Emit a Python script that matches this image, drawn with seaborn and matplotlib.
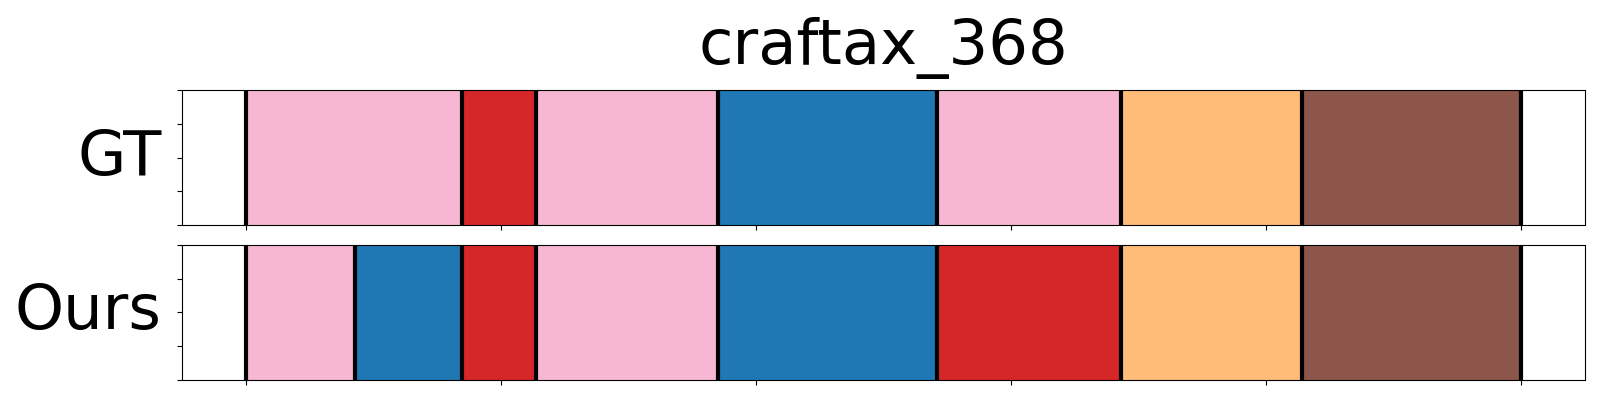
import matplotlib
matplotlib.use("Agg")
import matplotlib.pyplot as plt
import seaborn as sns

# segment boundaries (frames) and class ids per row
title = "craftax_368"
row_names = ["GT", "Ours"]
gt_bounds = [0, 85, 114, 185, 271, 343, 414, 500]
gt_ids = [13, 6, 13, 0, 13, 3, 10]
ours_bounds = [0, 43, 85, 114, 185, 271, 343, 414, 500]
ours_ids = [13, 0, 6, 13, 0, 6, 3, 10]

pal = sns.color_palette("tab20", 20)

fig, axes = plt.subplots(2, 1, figsize=(16, 4), dpi=100, sharex=True)
fig.subplots_adjust(left=0.1136, right=0.9906, top=0.775, bottom=0.05, hspace=0.148)

for ax, name, bounds, ids in zip(axes, row_names, [gt_bounds, ours_bounds], [gt_ids, ours_ids]):
    starts = bounds[:-1]
    widths = [b - a for a, b in zip(bounds[:-1], bounds[1:])]
    ax.barh(0.5, widths, left=starts, height=1.0, color=[pal[i] for i in ids], linewidth=0)
    for b in bounds:
        ax.axvline(b, color="black", linewidth=3)
    ax.use_sticky_edges = False
    ax.margins(x=0.05)
    ax.set_ylim(0, 1)
    ax.set_yticks([0, 0.25, 0.5, 0.75, 1.0])
    ax.set_yticklabels([])
    ax.set_ylabel(name, fontsize=45, rotation=0, ha="right", va="center", labelpad=7.5)
    ax.tick_params(labelbottom=False)

axes[0].set_title(title, fontsize=45, pad=19)

plt.savefig("out.png", dpi=100)
